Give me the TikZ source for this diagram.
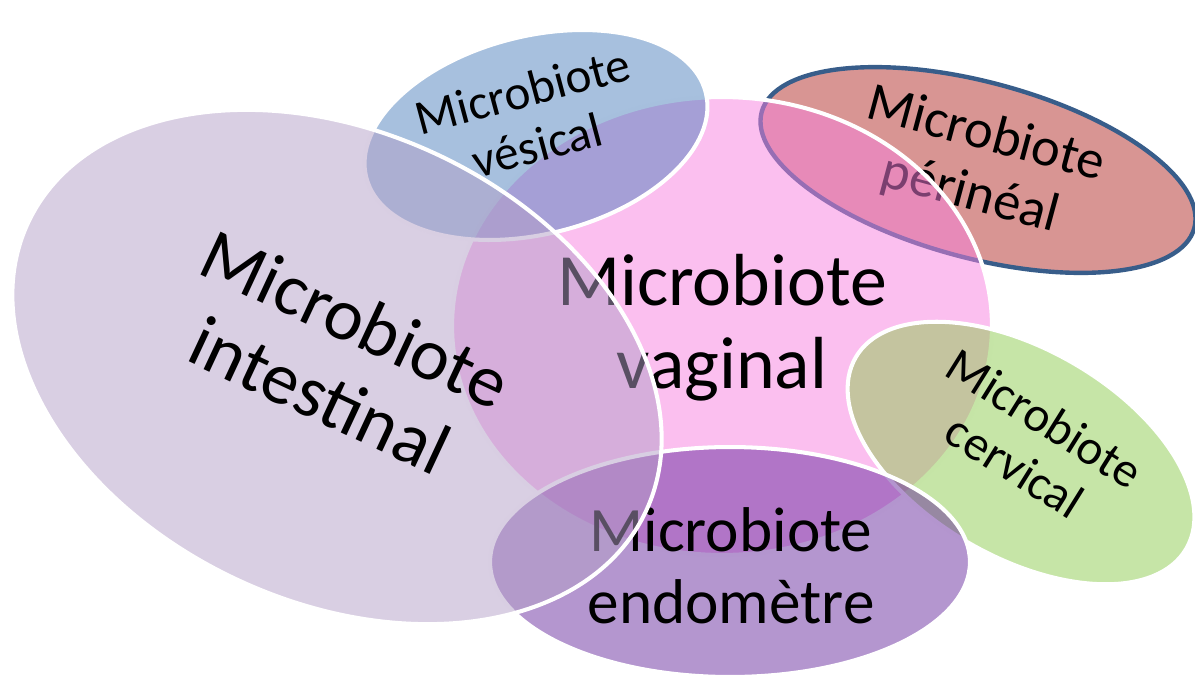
\documentclass[tikz,border=0pt]{standalone}
\usepackage{fontspec}
\setmainfont{Carlito}
\usetikzlibrary{shapes.geometric}
\definecolor{intc}{RGB}{179,159,199}
\definecolor{vagc}{RGB}{247,127,223}
\definecolor{vesc}{RGB}{79,129,189}
\definecolor{perc}{RGB}{177,43,39}
\definecolor{perl}{RGB}{56,93,138}
\definecolor{cerc}{RGB}{141,203,79}
\definecolor{endc}{RGB}{105,45,159}
\tikzset{blob/.style={ellipse,draw=white,line width=2.3pt,fill opacity=.5,text opacity=1,inner sep=0pt},
 lab/.style={align=center,inner sep=0pt,text=black}}

\begin{document}
\begin{tikzpicture}[x=0.02cm,y=-0.02cm]
\useasboundingbox (0,0) rectangle (1195,676);
\node[blob,fill=perc,draw=perl,line width=2.5pt,minimum width=8.96cm,minimum height=3.52cm,rotate=-15] (per) at (978,170) {};
\node[lab,rotate=-15,font=\fontsize{31}{35}\selectfont] (perT) at (978,165) {Microbiote\\périnéal};
\node[blob,fill=vagc,minimum width=10.8cm,minimum height=9.16cm] (vag) at (722,326) {};
\node[lab,font=\fontsize{42}{47}\selectfont] (vagT) at (722,328) {Microbiote\\vaginal};
\node[blob,fill=vesc,minimum width=7cm,minimum height=3.96cm,rotate=14] (ves) at (536,135) {};
\node[lab,rotate=15,font=\fontsize{28}{32}\selectfont] (vesT) at (530,118) {Microbiote\\vésical};
\node[blob,fill=cerc,minimum width=7.64cm,minimum height=4.16cm,rotate=-30] (cer) at (1021,453) {};
\node[lab,rotate=-32,font=\fontsize{28}{32}\selectfont] (cerT) at (1030,442) {Microbiote\\cervical};
\node[blob,fill=endc,minimum width=9.6cm,minimum height=4.6cm] (endo) at (730,562) {};
\node[lab,font=\fontsize{36}{41}\selectfont] (endoT) at (731,566) {Microbiote\\endomètre};
\node[blob,fill=intc,minimum width=13.64cm,minimum height=9.4cm,rotate=-25] (int) at (337,367) {};
\node[lab,rotate=-25,font=\fontsize{42}{48}\selectfont] (intT) at (338,357) {Microbiote\\intestinal};
\end{tikzpicture}
\end{document}
